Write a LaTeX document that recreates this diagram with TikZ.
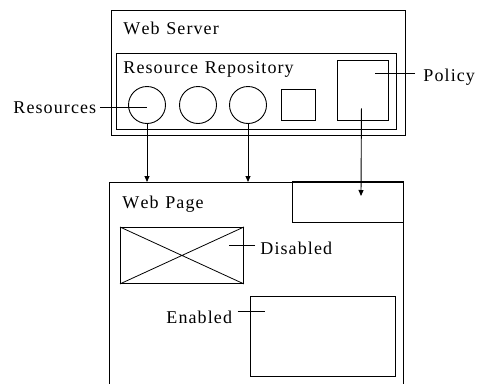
\documentclass[tikz,border=0pt]{standalone}
\usepackage{fontspec}
\setmainfont{Liberation Serif}
\usetikzlibrary{arrows.meta}
\def\spacedaux#1{\ifx#1\relax\else#1\kern1.1pt\expandafter\spacedaux\fi}
\newcommand\spacedtext[1]{\spacedaux#1\relax}
\begin{document}
\begin{tikzpicture}[x=1pt,y=-1pt, line width=0.9pt,
  box/.style={draw, rectangle, inner sep=0pt, anchor=north west},
  res/.style={draw, circle, minimum size=37pt, inner sep=0pt},
  lbl/.style={font=\rmfamily\fontsize{18}{20}\selectfont, inner sep=0pt, anchor=base west},
  conn/.style={-{Triangle[length=6pt,width=5pt]}},
  lead/.style={line width=0.8pt}]
\useasboundingbox (0,0) rectangle (479,383);
\clip (0,0) rectangle (479,383);
% Web server
\node[box, minimum width=294pt, minimum height=125pt] (server) at (111,10) {};
\node[lbl] (servertxt) at (123,34) {\spacedtext{Web\ Server}};
\node[box, minimum width=280pt, minimum height=76pt] (repo) at (116,53) {};
\node[lbl] (repotxt) at (123,73) {\spacedtext{Resource\ Repository}};
\node[res] (r1) at (147,105) {};
\node[res] (r2) at (198,105) {};
\node[res] (r3) at (248,105) {};
\node[box, minimum width=34pt, minimum height=31pt] (sq) at (281,89) {};
\node[box, minimum width=51pt, minimum height=60pt] (policy) at (337,60) {};
\node[lbl] (restxt) at (13,113) {\spacedtext{Resources}};
\node[lbl] (poltxt) at (423,81) {\spacedtext{Policy}};
% Web page
\node[box, minimum width=294pt, minimum height=260pt] (page) at (109,182) {};
\node[box, minimum width=111pt, minimum height=40pt] (slot) at (292,182) {};
\draw[line width=1.8pt] (slot.north west) -- (slot.north east);
\node[lbl] (pagetxt) at (122,208) {\spacedtext{Web\ Page}};
\node[box, minimum width=123pt, minimum height=56pt] (dis) at (120,227) {};
\draw[lead] (dis.north west) -- (dis.south east) (dis.north east) -- (dis.south west);
\node[lbl] (distxt) at (260,254) {\spacedtext{Disabled}};
\node[box, minimum width=145pt, minimum height=80pt] (en) at (250,296) {};
\node[lbl] (entxt) at (166,323) {\spacedtext{Enabled}};
% leaders
\draw[lead] ([xshift=2pt]restxt.east) -- (restxt.east -| r1.center);
\draw[lead] ([xshift=-8pt, yshift=3pt]poltxt.west) -- ++(-40,0);
\draw[lead] ([xshift=-5pt, yshift=2pt]distxt.west) -- ++(-26,0);
\draw[lead] ([xshift=4pt, yshift=5pt]entxt.east) -- ++(27,0);
% connectors
\coordinate (ptip) at (361,196);
\draw[conn] (r1.south) -- (r1.south |- page.north);
\draw[conn] (r3.south) -- (r3.south |- page.north);
\draw[conn] ([xshift=-1.5pt, yshift=-18pt]policy.center) -- (ptip);
\end{tikzpicture}
\end{document}
